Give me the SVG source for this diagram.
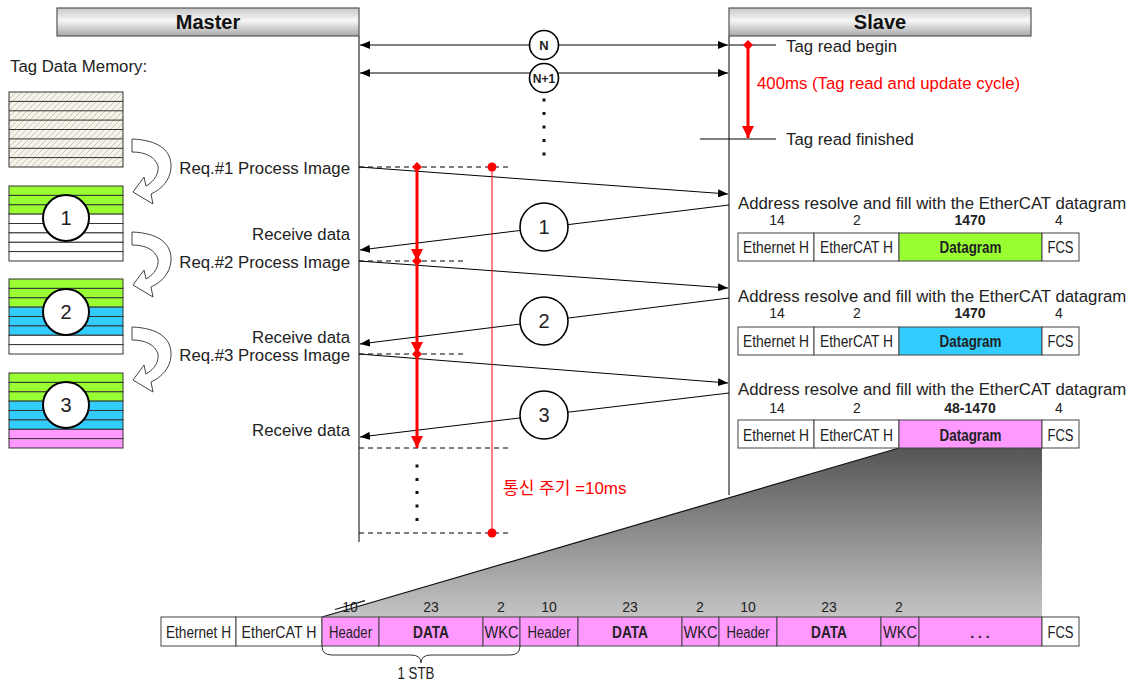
<svg xmlns="http://www.w3.org/2000/svg" width="1135" height="684" viewBox="0 0 1135 684">
<defs>
<linearGradient id="hdr" x1="0" y1="0" x2="0" y2="1">
<stop offset="0" stop-color="#c8c8c8"/><stop offset="0.45" stop-color="#f7f7f7"/><stop offset="1" stop-color="#a8a8a8"/>
</linearGradient>
<linearGradient id="zoomg" x1="0" y1="0" x2="0" y2="1">
<stop offset="0" stop-color="#555"/><stop offset="1" stop-color="#c4c4c4"/>
</linearGradient>
<pattern id="hatch" width="6" height="6" patternUnits="userSpaceOnUse">
<rect width="6" height="6" fill="#f5f3ea"/><path d="M0,6 L6,0 M-1,1 L1,-1 M5,7 L7,5" stroke="#ccc8b4" stroke-width="1"/>
</pattern>
<marker id="ah" markerWidth="10" markerHeight="8" refX="10" refY="4" orient="auto-start-reverse" markerUnits="userSpaceOnUse">
<path d="M0,0 L10,4 L0,8 Z" fill="#000"/>
</marker>
<marker id="rah" markerWidth="12" markerHeight="12" refX="12" refY="6" orient="auto" markerUnits="userSpaceOnUse">
<path d="M0,0 L12,6 L0,12 Z" fill="#f00"/>
</marker>
<marker id="rdia" markerWidth="10" markerHeight="10" refX="5" refY="5" orient="auto" markerUnits="userSpaceOnUse">
<path d="M5,0 L10,5 L5,10 L0,5 Z" fill="#f00"/>
</marker>
<marker id="rdot" markerWidth="10" markerHeight="10" refX="5" refY="5" markerUnits="userSpaceOnUse">
<circle cx="5" cy="5" r="4.5" fill="#f00"/>
</marker>
<path id="curv" d="M132,139 C158,140 172,150 171,168 C170,180 162,189 151,194 L153,204 L133,192 L144,177 L146,186 C155,181 159,173 158,166 C155,157 146,152 132,152 Z"/>
</defs>
<style>
text{font-family:"Liberation Sans",Arial,"Noto Sans CJK KR",sans-serif;fill:#222}
.hd{font-size:20px;font-weight:bold;text-anchor:middle;fill:#111}
.t15{font-size:16.8px}
.r{text-anchor:end}
.m{text-anchor:middle}
.b{font-weight:bold}
.t14{font-size:14px}
.bx{font-size:16px}
.red{fill:#f00}
.ln{stroke:#000;stroke-width:1;fill:none}
.dash{stroke:#000;stroke-width:1;stroke-dasharray:5,4;fill:none}
.life{stroke:#555;stroke-width:1.5;fill:none}
.cell{stroke:#444;stroke-width:1;}
.row{stroke:#333;stroke-width:1}
.cir{fill:#fff;stroke:#000;stroke-width:1.6}
.ccir{fill:#fff;stroke:#000;stroke-width:2}
.curv{fill:#fff;stroke:#444;stroke-width:1}
.g{fill:#99ff33}.bl{fill:#33ccff}.pk{fill:#ff99ff}.w{fill:#fff}
</style>

<g id="master-header">
<rect x="57" y="8" width="302" height="28" fill="url(#hdr)" stroke="#555" stroke-width="1.2"/>
<text x="208" y="29" class="hd">Master</text>
</g>
<g id="slave-header">
<rect x="729" y="8" width="302" height="28" fill="url(#hdr)" stroke="#555" stroke-width="1.2"/>
<text x="880" y="29" class="hd">Slave</text>
</g>

<g id="lifelines">
<line x1="359" y1="36" x2="359" y2="542" class="life"/>
<line x1="729" y1="36" x2="729" y2="495" class="life"/>
</g>

<g id="memory">
<text x="10" y="72" class="t15">Tag Data Memory:</text>
<g id="block0">
<rect x="9" y="92" width="114" height="75" fill="url(#hatch)"/>
<g class="row">
<line x1="9" y1="101.4" x2="123" y2="101.4"/><line x1="9" y1="110.8" x2="123" y2="110.8"/><line x1="9" y1="120.1" x2="123" y2="120.1"/><line x1="9" y1="129.5" x2="123" y2="129.5"/><line x1="9" y1="138.9" x2="123" y2="138.9"/><line x1="9" y1="148.3" x2="123" y2="148.3"/><line x1="9" y1="157.6" x2="123" y2="157.6"/>
</g>
<rect x="9" y="92" width="114" height="75" fill="none" stroke="#333"/>
</g>
<g id="block1" class="row">
<rect x="9" y="186" width="114" height="9.4" class="g"/><rect x="9" y="195.4" width="114" height="9.4" class="g"/><rect x="9" y="204.8" width="114" height="9.4" class="g"/>
<rect x="9" y="214.1" width="114" height="9.4" class="w"/><rect x="9" y="223.5" width="114" height="9.4" class="w"/><rect x="9" y="232.9" width="114" height="9.4" class="w"/><rect x="9" y="242.3" width="114" height="9.4" class="w"/><rect x="9" y="251.6" width="114" height="9.4" class="w"/>
<circle cx="66" cy="218" r="23" class="ccir"/>
<text x="66" y="225" class="m" style="font-size:20px;stroke:none">1</text>
</g>
<g id="block2" class="row">
<rect x="9" y="279" width="114" height="9.4" class="g"/><rect x="9" y="288.4" width="114" height="9.4" class="g"/><rect x="9" y="297.8" width="114" height="9.4" class="g"/>
<rect x="9" y="307.1" width="114" height="9.4" class="bl"/><rect x="9" y="316.5" width="114" height="9.4" class="bl"/><rect x="9" y="325.9" width="114" height="9.4" class="bl"/>
<rect x="9" y="335.3" width="114" height="9.4" class="w"/><rect x="9" y="344.6" width="114" height="9.4" class="w"/>
<circle cx="66" cy="312" r="23" class="ccir"/>
<text x="66" y="319" class="m" style="font-size:20px;stroke:none">2</text>
</g>
<g id="block3" class="row">
<rect x="9" y="373" width="114" height="9.4" class="g"/><rect x="9" y="382.4" width="114" height="9.4" class="g"/><rect x="9" y="391.8" width="114" height="9.4" class="g"/>
<rect x="9" y="401.1" width="114" height="9.4" class="bl"/><rect x="9" y="410.5" width="114" height="9.4" class="bl"/><rect x="9" y="419.9" width="114" height="9.4" class="bl"/>
<rect x="9" y="429.3" width="114" height="9.4" class="pk"/><rect x="9" y="438.6" width="114" height="9.4" class="pk"/>
<circle cx="66" cy="405" r="23" class="ccir"/>
<text x="66" y="412" class="m" style="font-size:20px;stroke:none">3</text>
</g>
<g id="curved-arrows">
<use href="#curv" class="curv"/>
<use href="#curv" class="curv" transform="translate(0,93)"/>
<use href="#curv" class="curv" transform="translate(0,188)"/>
</g>
</g>

<g id="master-labels">
<text x="350" y="174" class="t15 r">Req.#1 Process Image</text>
<text x="350" y="240" class="t15 r">Receive data</text>
<text x="350" y="268" class="t15 r">Req.#2 Process Image</text>
<text x="350" y="343" class="t15 r">Receive data</text>
<text x="350" y="361" class="t15 r">Req.#3 Process Image</text>
<text x="350" y="436" class="t15 r">Receive data</text>
</g>

<g id="connectors">
<line x1="360" y1="45" x2="728" y2="45" class="ln" marker-start="url(#ah)" marker-end="url(#ah)"/>
<line x1="360" y1="73" x2="728" y2="73" class="ln" marker-start="url(#ah)" marker-end="url(#ah)"/>
<line x1="729" y1="45" x2="776" y2="45" class="ln"/>
<line x1="700" y1="139" x2="776" y2="139" class="ln"/>
<line x1="359" y1="167" x2="728" y2="194" class="ln" marker-end="url(#ah)"/>
<line x1="729" y1="205" x2="360" y2="250" class="ln" marker-end="url(#ah)"/>
<line x1="359" y1="261" x2="728" y2="288" class="ln" marker-end="url(#ah)"/>
<line x1="729" y1="298" x2="360" y2="344" class="ln" marker-end="url(#ah)"/>
<line x1="359" y1="354" x2="728" y2="383" class="ln" marker-end="url(#ah)"/>
<line x1="729" y1="393" x2="360" y2="437" class="ln" marker-end="url(#ah)"/>
<line x1="359" y1="167" x2="508" y2="167" class="dash"/>
<line x1="359" y1="261" x2="464" y2="261" class="dash"/>
<line x1="359" y1="354" x2="464" y2="354" class="dash"/>
<line x1="359" y1="448" x2="508" y2="448" class="dash"/>
<line x1="359" y1="533" x2="508" y2="533" class="dash"/>
<line x1="417" y1="167" x2="417" y2="261" stroke="#f00" stroke-width="3" marker-start="url(#rdia)" marker-end="url(#rah)"/>
<line x1="417" y1="261" x2="417" y2="354" stroke="#f00" stroke-width="3" marker-start="url(#rdia)" marker-end="url(#rah)"/>
<line x1="417" y1="354" x2="417" y2="448" stroke="#f00" stroke-width="3" marker-start="url(#rdia)" marker-end="url(#rah)"/>
<line x1="492" y1="167" x2="492" y2="533" stroke="#f00" stroke-width="1" marker-start="url(#rdot)" marker-end="url(#rdot)"/>
<line x1="748" y1="45" x2="748" y2="138" stroke="#f00" stroke-width="3" marker-start="url(#rdia)" marker-end="url(#rah)"/>
</g>

<g id="seq-circles">
<circle cx="544" cy="45" r="14.5" class="cir" stroke-width="2"/>
<text x="544" y="50" class="m b" style="font-size:13px">N</text>
<circle cx="544" cy="78" r="14.5" class="cir" stroke-width="2"/>
<text x="544" y="82.5" class="m b" style="font-size:12px">N+1</text>
<g fill="#111">
<rect x="542.5" y="98.5" width="3" height="3"/><rect x="542.5" y="112" width="3" height="3"/><rect x="542.5" y="125.5" width="3" height="3"/><rect x="542.5" y="139" width="3" height="3"/><rect x="542.5" y="152.5" width="3" height="3"/>
<rect x="415.5" y="464.5" width="3" height="3"/><rect x="415.5" y="478" width="3" height="3"/><rect x="415.5" y="491" width="3" height="3"/><rect x="415.5" y="504.5" width="3" height="3"/><rect x="415.5" y="518" width="3" height="3"/>
</g>
<circle cx="544" cy="227" r="24" class="cir"/>
<text x="544" y="234" class="m" style="font-size:20px">1</text>
<circle cx="544" cy="321" r="24" class="cir"/>
<text x="544" y="328" class="m" style="font-size:20px">2</text>
<circle cx="544" cy="415" r="24" class="cir"/>
<text x="544" y="422" class="m" style="font-size:20px">3</text>
</g>

<g id="slave-labels">
<text x="786" y="52" class="t15">Tag read begin</text>
<text x="786" y="145" class="t15">Tag read finished</text>
<text x="757" y="89" class="t15 red">400ms (Tag read and update cycle)</text>
<text x="503" y="494" class="red" style="font-size:17px">통신 주기 =10ms</text>
</g>

<g id="zoom-wedge">
<polygon points="899,448 1042,448 1042,617 322,617" fill="url(#zoomg)"/>
<line x1="899" y1="448" x2="322" y2="617" stroke="#111" stroke-width="1.2"/>
</g>

<g id="frame1">
<text x="738" y="209" class="t15">Address resolve and fill with the EtherCAT datagram</text>
<text x="777" y="225" class="t14 m">14</text><text x="857" y="225" class="t14 m">2</text><text x="970" y="225" class="t14 m b">1470</text><text x="1059" y="225" class="t14 m">4</text>
<rect x="738" y="233" width="76" height="28" class="cell w"/><rect x="814" y="233" width="85" height="28" class="cell w"/><rect x="899" y="233" width="143" height="28" class="cell g"/><rect x="1042" y="233" width="37" height="28" class="cell w"/>
<text x="776" y="253" class="bx m" textLength="66" lengthAdjust="spacingAndGlyphs">Ethernet H</text><text x="856.5" y="253" class="bx m" textLength="73" lengthAdjust="spacingAndGlyphs">EtherCAT H</text><text x="970.5" y="253" class="bx m b" textLength="62" lengthAdjust="spacingAndGlyphs">Datagram</text><text x="1060.5" y="253" class="bx m" textLength="26" lengthAdjust="spacingAndGlyphs">FCS</text>
</g>
<g id="frame2">
<text x="738" y="302" class="t15">Address resolve and fill with the EtherCAT datagram</text>
<text x="777" y="318" class="t14 m">14</text><text x="857" y="318" class="t14 m">2</text><text x="970" y="318" class="t14 m b">1470</text><text x="1059" y="318" class="t14 m">4</text>
<rect x="738" y="327" width="76" height="28" class="cell w"/><rect x="814" y="327" width="85" height="28" class="cell w"/><rect x="899" y="327" width="143" height="28" class="cell bl"/><rect x="1042" y="327" width="37" height="28" class="cell w"/>
<text x="776" y="347" class="bx m" textLength="66" lengthAdjust="spacingAndGlyphs">Ethernet H</text><text x="856.5" y="347" class="bx m" textLength="73" lengthAdjust="spacingAndGlyphs">EtherCAT H</text><text x="970.5" y="347" class="bx m b" textLength="62" lengthAdjust="spacingAndGlyphs">Datagram</text><text x="1060.5" y="347" class="bx m" textLength="26" lengthAdjust="spacingAndGlyphs">FCS</text>
</g>
<g id="frame3">
<text x="738" y="395" class="t15">Address resolve and fill with the EtherCAT datagram</text>
<text x="777" y="413" class="t14 m">14</text><text x="857" y="413" class="t14 m">2</text><text x="970" y="413" class="t14 m b">48-1470</text><text x="1059" y="413" class="t14 m">4</text>
<rect x="738" y="420" width="76" height="28" class="cell w"/><rect x="814" y="420" width="85" height="28" class="cell w"/><rect x="899" y="420" width="143" height="28" class="cell pk"/><rect x="1042" y="420" width="37" height="28" class="cell w"/>
<text x="776" y="441" class="bx m" textLength="66" lengthAdjust="spacingAndGlyphs">Ethernet H</text><text x="856.5" y="441" class="bx m" textLength="73" lengthAdjust="spacingAndGlyphs">EtherCAT H</text><text x="970.5" y="441" class="bx m b" textLength="62" lengthAdjust="spacingAndGlyphs">Datagram</text><text x="1060.5" y="441" class="bx m" textLength="26" lengthAdjust="spacingAndGlyphs">FCS</text>
</g>

<g id="bottom-frame">
<rect x="161" y="617" width="75" height="29" class="cell w"/>
<rect x="236" y="617" width="86" height="29" class="cell w"/>
<rect x="322" y="617" width="57" height="29" class="cell pk"/>
<rect x="379" y="617" width="104" height="29" class="cell pk"/>
<rect x="483" y="617" width="37" height="29" class="cell pk"/>
<rect x="520" y="617" width="58" height="29" class="cell pk"/>
<rect x="578" y="617" width="104" height="29" class="cell pk"/>
<rect x="682" y="617" width="37" height="29" class="cell pk"/>
<rect x="719" y="617" width="58" height="29" class="cell pk"/>
<rect x="777" y="617" width="104" height="29" class="cell pk"/>
<rect x="881" y="617" width="38" height="29" class="cell pk"/>
<rect x="919" y="617" width="123" height="29" class="cell pk"/>
<rect x="1042" y="617" width="37" height="29" class="cell w"/>
<g class="bx">
<text x="198.5" y="637.5" class="m" textLength="65" lengthAdjust="spacingAndGlyphs">Ethernet H</text>
<text x="279" y="637.5" class="m" textLength="75" lengthAdjust="spacingAndGlyphs">EtherCAT H</text>
<text x="350.5" y="637.5" class="m" textLength="43" lengthAdjust="spacingAndGlyphs">Header</text>
<text x="431" y="637.5" class="m b" textLength="36" lengthAdjust="spacingAndGlyphs">DATA</text>
<text x="501.5" y="637.5" class="m" textLength="34" lengthAdjust="spacingAndGlyphs">WKC</text>
<text x="549" y="637.5" class="m" textLength="43" lengthAdjust="spacingAndGlyphs">Header</text>
<text x="630" y="637.5" class="m b" textLength="36" lengthAdjust="spacingAndGlyphs">DATA</text>
<text x="700.5" y="637.5" class="m" textLength="34" lengthAdjust="spacingAndGlyphs">WKC</text>
<text x="748" y="637.5" class="m" textLength="43" lengthAdjust="spacingAndGlyphs">Header</text>
<text x="829" y="637.5" class="m b" textLength="36" lengthAdjust="spacingAndGlyphs">DATA</text>
<text x="900" y="637.5" class="m" textLength="34" lengthAdjust="spacingAndGlyphs">WKC</text>
<text x="980" y="638" class="m b" style="font-size:14px">. . .</text>
<text x="1060.5" y="637.5" class="m" textLength="26" lengthAdjust="spacingAndGlyphs">FCS</text>
</g>
<g class="t14">
<text x="350" y="612" class="m">10</text><text x="431" y="612" class="m">23</text><text x="501" y="612" class="m">2</text>
<text x="549" y="612" class="m">10</text><text x="630" y="612" class="m">23</text><text x="700" y="612" class="m">2</text>
<text x="748" y="612" class="m">10</text><text x="829" y="612" class="m">23</text><text x="899" y="612" class="m">2</text>
</g>
<line x1="335" y1="609.5" x2="365" y2="600.7" stroke="#111" stroke-width="1.2"/>
<path d="M322,646 Q322,655 332,655 L411,655 Q421,655 421,663 Q421,655 431,655 L510,655 Q520,655 520,646" fill="none" stroke="#333" stroke-width="1"/>
<text x="416" y="679" class="bx m" textLength="37" lengthAdjust="spacingAndGlyphs">1 STB</text>
</g>
</svg>
